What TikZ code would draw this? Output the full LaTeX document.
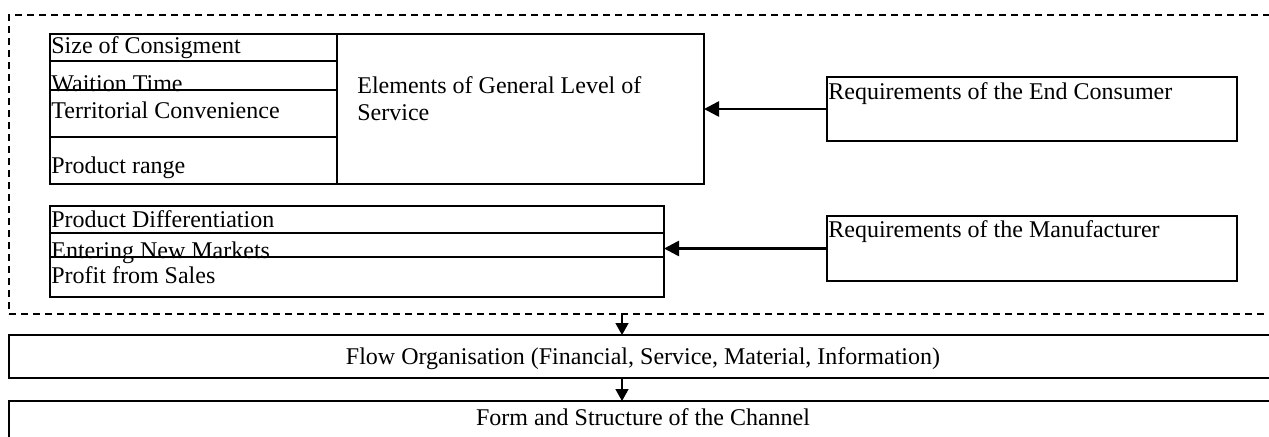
\documentclass[tikz,border=0pt]{standalone}
\usepackage{fontspec}
\setmainfont{Liberation Serif}
\usetikzlibrary{arrows.meta, fit}

\begin{document}
\begin{tikzpicture} [x = 0.5pt, y = -0.5pt,
	box/.style = {draw, line width = 0.8pt, inner sep = 0pt, outer sep = 0pt},
	frame/.style = {draw, dash pattern = on 3.5pt off 2.5pt, line width = 0.7pt, inner sep = 0pt, outer sep = 0pt},
	cellText/.style = {anchor = base west, inner sep = 0pt, font = \fontsize{12}{14}\selectfont},
	midText/.style = {anchor = base, inner sep = 0pt, font = \fontsize{12}{14}\selectfont},
	feed/.style = {-{Triangle[length = 7.5pt, width = 7.5pt]}, line width = 1.3pt},
	flowArrow/.style = {-{Triangle[length = 6pt, width = 6.5pt]}, line width = 0.8pt}]

	\useasboundingbox (0, 0) rectangle (1269, 436);

		% Define boxes.

	%dashed frame
	\node [frame, fit = {(9, 15) (1300, 314)}] (reqFrame) {};
	\coordinate (frameOut) at (622, 314);

	%service table
	\node [box, fit = {(50, 34) (337, 61)}] (sizeCell) {};
	\node [box, fit = {(50, 61) (337, 90)}] (waitCell) {};
	\node [box, fit = {(50, 90) (337, 137)}] (territoryCell) {};
	\node [box, fit = {(50, 137) (337, 184)}] (rangeCell) {};
	\node [box, fit = {(337, 34) (704, 184)}] (serviceBox) {};

	%manufacturer table
	\node [box, fit = {(50, 206) (664, 233)}] (diffCell) {};
	\node [box, fit = {(50, 233) (664, 257)}] (marketCell) {};
	\node [box, fit = {(50, 257) (664, 297)}] (profitCell) {};

	%requirements
	\node [box, fit = {(827, 77) (1237, 141)}] (consumerBox) {};
	\node [box, fit = {(827, 216) (1237, 281)}] (makerBox) {};

	%flow and channel
	\node [box, line width = 1pt, fit = {(9, 335) (1277, 378)}] (flowBox) {};
	\node [box, line width = 1pt, fit = {(9, 401) (1277, 452)}] (formBox) {};

% Write texts.

	\node [cellText] (sizeText) at (51, 53) {Size of Consigment};
	\node [cellText] (waitText) at (51, 91) {Waition Time};
	\node [cellText] (territoryText) at (51, 118) {Territorial Convenience};
	\node [cellText] (rangeText) at (51, 173) {Product range};

	\node [cellText] (serviceText) at (357, 93) {Elements of General Level of};
	\node [cellText] (serviceTextB) at (357, 120) {Service};

	\node [cellText] (diffText) at (51, 227) {Product Differentiation};
	\node [cellText] (marketText) at (51, 258) {Entering New Markets};
	\node [cellText] (profitText) at (51, 283) {Profit from Sales};

	\node [cellText] (consumerText) at (828, 99) {Requirements of the End Consumer};
	\node [cellText] (makerText) at (828, 237) {Requirements of the Manufacturer};

	\node [midText] (flowText) at (643, 364) {Flow Organisation (Financial, Service, Material, Information)};
	\node [midText] (formText) at (643, 425) {Form and Structure of the Channel};

% Draw arrows.

	\draw [feed] (consumerBox.west) -- (consumerBox.west -| serviceBox.east);
	\draw [feed] (makerBox.west) -- (makerBox.west -| marketCell.east);

	\draw [flowArrow] (frameOut) -- (frameOut |- flowBox.north);
	\draw [flowArrow] (frameOut |- flowBox.south) -- (frameOut |- formBox.north);

\end{tikzpicture}
\end{document}
